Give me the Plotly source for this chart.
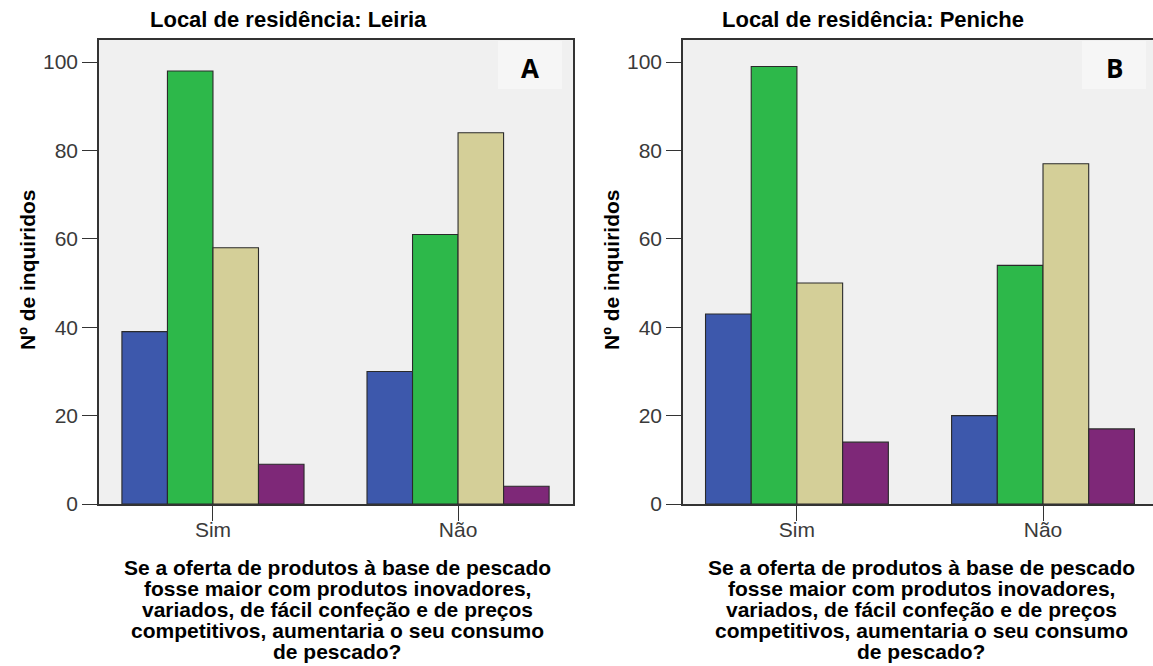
import plotly.graph_objects as go

categories = ["Sim", "Não"]
series_names = ["Resposta 1", "Resposta 2", "Resposta 3", "Resposta 4"]
series_colors = ["#3D58AC", "#2DB84A", "#D4CF98", "#7E2878"]
leiria = [[39, 30], [98, 61], [58, 84], [9, 4]]
peniche = [[43, 20], [99, 54], [50, 77], [14, 17]]
titles = ["Local de residência: Leiria", "Local de residência: Peniche"]
letters = ["A", "B"]
ytitle = "Nº de inquiridos"
xtitle_lines = ["Se a oferta de produtos à base de pescado",
                "fosse maior com produtos inovadores,",
                "variados, de fácil confeção e de preços",
                "competitivos, aumentaria o seu consumo",
                "de pescado?"]
yticks = [0, 20, 40, 60, 80, 100]

W, H = 1153, 666
TOP, BOT = 40, 162
fig = go.Figure()
for panel, data in enumerate([leiria, peniche]):
    xa = "x" if panel == 0 else "x2"
    ya = "y" if panel == 0 else "y2"
    for i, vals in enumerate(data):
        fig.add_trace(go.Bar(x=categories, y=vals, name=series_names[i], xaxis=xa, yaxis=ya,
                             marker=dict(color=series_colors[i], line=dict(color="#2a2a2a", width=1.1)),
                             showlegend=False, offsetgroup=str(i)))

dom1 = [99 / W, 573 / W]
dom2 = [683 / W, 1.0]
axis_common = dict(showline=True, linecolor="#333333", linewidth=1.5, mirror=True,
                   ticks="outside", tickcolor="#333333", ticklen=15, tickwidth=1.3,
                   showgrid=False, zeroline=False,
                   tickfont=dict(family="Liberation Sans, Arial", size=21, color="#3a3a3a"))
fig.update_layout(
    width=W, height=H,
    margin=dict(l=0, r=0, t=TOP, b=BOT, autoexpand=False),
    paper_bgcolor="white", plot_bgcolor="#F0F0F0",
    barmode="group", bargap=0.257, bargroupgap=0,
    xaxis=dict(domain=dom1, type="category", categoryorder="array", categoryarray=categories,
               range=[-0.465, 1.469], anchor="y", ticklabelstandoff=-9, **axis_common),
    yaxis=dict(domain=[0, 1], range=[0, 105], tickvals=yticks, anchor="x", **axis_common),
    xaxis2=dict(domain=dom2, type="category", categoryorder="array", categoryarray=categories,
                range=[-0.463, 1.447], anchor="y2", ticklabelstandoff=-9, **axis_common),
    yaxis2=dict(domain=[0, 1], range=[0, 105], tickvals=yticks, anchor="x2", **axis_common),
)

bold = dict(family="Liberation Sans, Arial", color="#000000")
plot_h = H - TOP - BOT


def py(pix):
    return 1 - (pix - TOP) / plot_h


for panel, left in enumerate([99, 683]):
    # title
    fig.add_annotation(text="<b>" + titles[panel] + "</b>", xref="paper", yref="paper",
                       x=(left + 189.5) / W, y=py(20), xanchor="center", yanchor="middle",
                       showarrow=False, font=dict(size=22, **bold))
    # y title
    fig.add_annotation(text="<b>" + ytitle + "</b>", xref="paper", yref="paper",
                       x=(left - 72) / W, y=py(270), xanchor="center", yanchor="middle",
                       showarrow=False, textangle=-90, font=dict(size=21, **bold))
    # x title (one annotation per line for tight spacing)
    for k, line in enumerate(xtitle_lines):
        fig.add_annotation(text="<b>" + line + "</b>", xref="paper", yref="paper",
                           x=(left + 238) / W, y=py(567 + 21.2 * k), xanchor="center", yanchor="middle",
                           showarrow=False, font=dict(size=21, **bold))
    # letter box
    bx = left + 399
    fig.add_shape(type="rect", xref="paper", yref="paper",
                  x0=bx / W, x1=(bx + 64) / W, y0=py(89), y1=py(41),
                  fillcolor="#F6F6F6", line=dict(width=0), layer="below")
    fig.add_annotation(text="<b>" + letters[panel] + "</b>", xref="paper", yref="paper",
                       x=(bx + 32) / W, y=py(68), xanchor="center", yanchor="middle",
                       showarrow=False, font=dict(family="Open Sans", size=26, color="#000000"))

fig.write_html("out.html", config={"displayModeBar": False},
               post_script="document.body.style.margin='0px';")
